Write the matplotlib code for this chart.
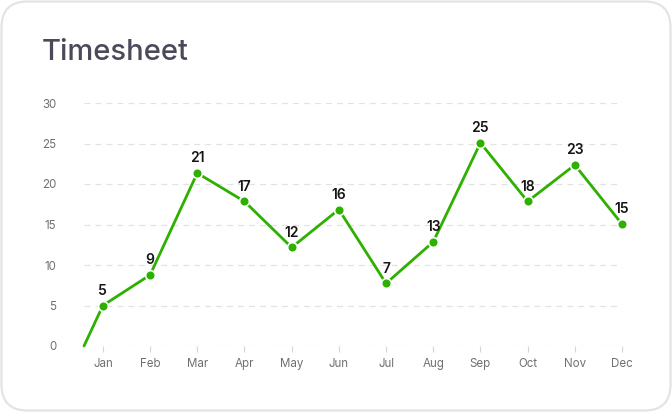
import matplotlib
matplotlib.use("Agg")
import matplotlib.pyplot as plt
from matplotlib.patches import FancyBboxPatch

plt.rcParams['font.family'] = ['Inter', 'DejaVu Sans']
plt.rcParams['lines.scale_dashes'] = False

months = ["Jan", "Feb", "Mar", "Apr", "May", "Jun", "Jul", "Aug", "Sep", "Oct", "Nov", "Dec"]
hours = [5.0, 8.77, 21.35, 17.85, 12.17, 16.85, 7.73, 12.85, 25.08, 17.85, 22.35, 15.05]
labels = ["5", "9", "21", "17", "12", "16", "7", "13", "25", "18", "23", "15"]
start_x = -0.4
start_value = 0
yticks = [0, 5, 10, 15, 20, 25, 30]

W, H = 672, 412
fig = plt.figure(figsize=(W / 100, H / 100), dpi=100)

bg = fig.add_axes([0, 0, 1, 1], zorder=0)
bg.set_xlim(0, W)
bg.set_ylim(0, H)
bg.axis('off')
bg.add_patch(FancyBboxPatch((1.5, 1.5), W - 3, H - 3,
                            boxstyle="round,pad=0,rounding_size=26",
                            facecolor='white', edgecolor='#e4e4e4', linewidth=1.6))

ax = fig.add_axes([84 / W, 1 - 346 / H, (622 - 84) / W, (346 - 103) / H], zorder=1)
ax.patch.set_alpha(0)
x = list(range(len(months)))

ax.plot([start_x] + x, [start_value] + hours, color='#2eb000', linewidth=2, zorder=3,
        solid_capstyle='round', clip_on=False)
ax.plot(x, hours, linestyle='none', marker='o', markersize=7, markerfacecolor='#2eb000',
        markeredgecolor='white', markeredgewidth=1.2, zorder=4, clip_on=False)

for xi, v, lab in zip(x, hours, labels):
    ax.annotate(lab, (xi, v), xytext=(0, 5.5), textcoords='offset points',
                ha='center', va='bottom', fontsize=10, fontweight='semibold',
                color='#151515', zorder=5)

ax.set_xlim(start_x, len(months) - 1)
ax.set_ylim(0, 30)
ax.set_yticks(yticks)
ax.set_xticks(x)
ax.set_xticklabels(months)
for yt in yticks:
    ax.axhline(yt, color='#e2e2e2', linewidth=0.9, linestyle=(0, (4.3, 3.6)), zorder=1)

for s in ax.spines.values():
    s.set_visible(False)
ax.tick_params(axis='y', length=0, pad=20, labelsize=8.3, labelcolor='#707070')
ax.tick_params(axis='x', length=4.3, width=0.8, color='#d4d4d4', pad=4,
               labelsize=8.3, labelcolor='#707070')

fig.text(42 / W, 1 - 60 / H, "Timesheet", fontsize=21, fontweight='medium',
         color='#4a4a5a', ha='left', va='baseline')

fig.savefig("out.png", dpi=100)
